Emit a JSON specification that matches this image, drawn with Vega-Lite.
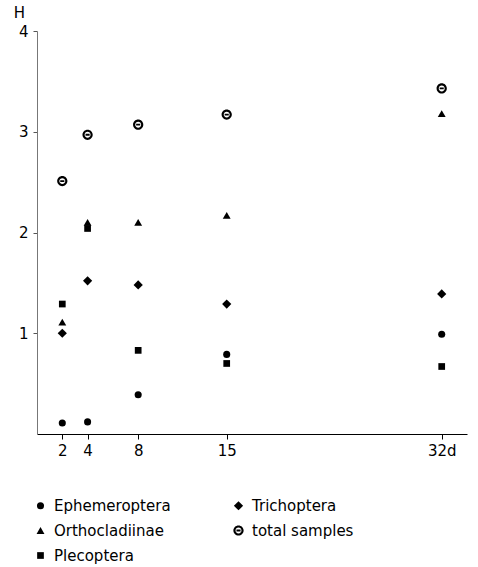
{
  "$schema": "https://vega.github.io/schema/vega-lite/v6.json",
  "width": 430,
  "height": 403,
  "autosize": "none",
  "padding": {"left": 37, "top": 31, "right": 11, "bottom": 133},
  "background": "white",
  "config": {
    "view": {"stroke": null},
    "font": "DejaVu Sans"
  },
  "data": {
    "values": [
      {"day": 2, "H": 0.11, "group": "Ephemeroptera"},
      {"day": 4, "H": 0.12, "group": "Ephemeroptera"},
      {"day": 8, "H": 0.39, "group": "Ephemeroptera"},
      {"day": 15, "H": 0.79, "group": "Ephemeroptera"},
      {"day": 32, "H": 0.99, "group": "Ephemeroptera"},
      {"day": 2, "H": 1.0, "group": "Trichoptera"},
      {"day": 4, "H": 1.52, "group": "Trichoptera"},
      {"day": 8, "H": 1.48, "group": "Trichoptera"},
      {"day": 15, "H": 1.29, "group": "Trichoptera"},
      {"day": 32, "H": 1.39, "group": "Trichoptera"},
      {"day": 2, "H": 1.11, "group": "Orthocladiinae"},
      {"day": 4, "H": 2.1, "group": "Orthocladiinae"},
      {"day": 8, "H": 2.1, "group": "Orthocladiinae"},
      {"day": 15, "H": 2.17, "group": "Orthocladiinae"},
      {"day": 32, "H": 3.18, "group": "Orthocladiinae"},
      {"day": 2, "H": 2.51, "group": "total samples"},
      {"day": 4, "H": 2.97, "group": "total samples"},
      {"day": 8, "H": 3.07, "group": "total samples"},
      {"day": 15, "H": 3.17, "group": "total samples"},
      {"day": 32, "H": 3.43, "group": "total samples"},
      {"day": 2, "H": 1.29, "group": "Plecoptera"},
      {"day": 4, "H": 2.04, "group": "Plecoptera"},
      {"day": 8, "H": 0.83, "group": "Plecoptera"},
      {"day": 15, "H": 0.7, "group": "Plecoptera"},
      {"day": 32, "H": 0.67, "group": "Plecoptera"}
    ]
  },
  "mark": {"type": "point", "filled": true, "opacity": 1, "color": "black"},
  "encoding": {
    "x": {
      "field": "day",
      "type": "quantitative",
      "scale": {"domain": [0, 34], "nice": false, "zero": true},
      "axis": {
        "values": [2, 4, 8, 15, 32],
        "labelExpr": "datum.value == 32 ? '32d' : datum.label",
        "title": null,
        "grid": false,
        "domainColor": "black",
        "domainWidth": 1.2,
        "tickColor": "black",
        "tickSize": 5,
        "labelFontSize": 15,
        "labelColor": "black",
        "labelPadding": 4,
        "labelFlush": false
      }
    },
    "y": {
      "field": "H",
      "type": "quantitative",
      "scale": {"domain": [0, 4], "nice": false},
      "axis": {
        "values": [1, 2, 3, 4],
        "title": "H",
        "titleAngle": 0,
        "titleFontSize": 15,
        "titleFontWeight": "normal",
        "titleColor": "black",
        "titleX": -18,
        "titleY": -19,
        "titleAlign": "center",
        "titleBaseline": "middle",
        "grid": false,
        "domainColor": "#777",
        "tickColor": "#555",
        "tickSize": 4,
        "labelFontSize": 15,
        "labelColor": "black",
        "labelPadding": 5
      }
    },
    "shape": {
      "field": "group",
      "type": "nominal",
      "scale": {
        "domain": ["Ephemeroptera", "Trichoptera", "Orthocladiinae", "total samples", "Plecoptera"],
        "range": [
          "circle",
          "diamond",
          "triangle-up",
          "M-1,0A1,1,0,1,1,1,0A1,1,0,1,1,-1,0Z M-0.58,0A0.58,0.58,0,1,0,0.58,0A0.58,0.58,0,1,0,-0.58,0Z M-0.4,-0.18H0.4V0.18H-0.4Z",
          "square"
        ]
      },
      "legend": {
        "title": null,
        "orient": "none",
        "legendX": -4,
        "legendY": 467,
        "columns": 2,
        "direction": "horizontal",
        "labelFontSize": 15,
        "labelColor": "black",
        "symbolFillColor": "black",
        "symbolStrokeColor": "black",
        "symbolStrokeWidth": 0,
        "rowPadding": 9,
        "columnPadding": 60,
        "labelOffset": 6,
        "labelLimit": 300
      }
    },
    "size": {
      "field": "group",
      "type": "nominal",
      "scale": {
        "type": "ordinal",
        "domain": ["Ephemeroptera", "Trichoptera", "Orthocladiinae", "total samples", "Plecoptera"],
        "range": [50, 85, 62, 105, 45]
      }
    }
  }
}
